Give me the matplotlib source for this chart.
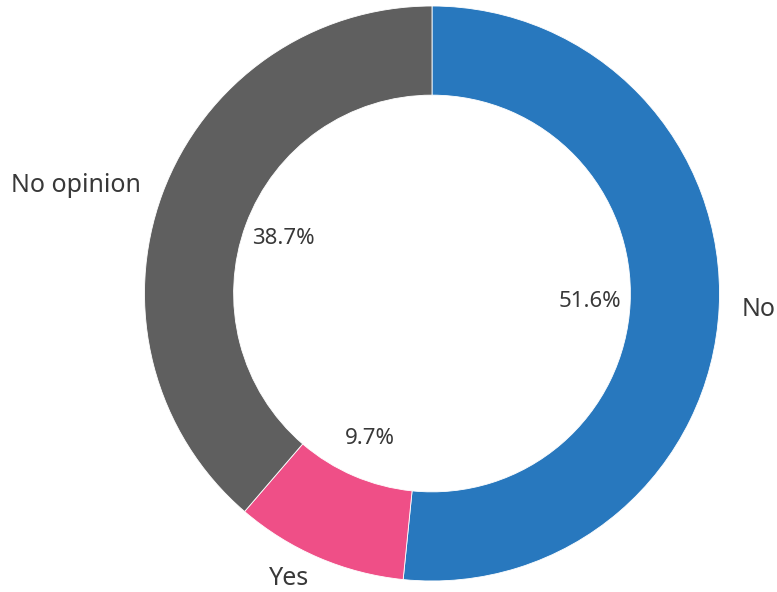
import matplotlib
matplotlib.use("Agg")
import matplotlib.pyplot as plt

labels = ["No", "Yes", "No opinion"]
values = [51.6, 9.7, 38.7]
colors = ["#2878be", "#ef4f87", "#5f5f5f"]

plt.rcParams['font.family'] = ['Noto Sans', 'DejaVu Sans']

fig = plt.figure(figsize=(7.77, 5.92), dpi=100)
ax = fig.add_axes([0, 0, 1, 1])

wedges, texts, autotexts = ax.pie(
    values, labels=labels, colors=colors, startangle=90, counterclock=False,
    autopct='%1.1f%%', pctdistance=0.55, labeldistance=1.08,
    wedgeprops=dict(width=0.31, edgecolor='white', linewidth=0.6),
    textprops=dict(color='#383838', fontsize=16))
for t in texts:
    t.set_fontsize(18)

# pie center sits at (432, 293) px, radius ~288 px
r = 287.5
ax.set_aspect('auto')
ax.set_xlim(-432 / r, (777 - 432) / r)
ax.set_ylim(-(592 - 293.5) / r, 293.5 / r)
ax.axis('off')

fig.savefig("out.png", dpi=100)
